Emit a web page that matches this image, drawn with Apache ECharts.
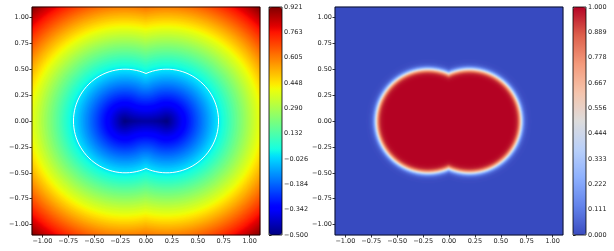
<!DOCTYPE html>
<html>
<head>
<meta charset="utf-8">
<script src="https://cdn.jsdelivr.net/npm/echarts@6/dist/echarts.min.js"></script>
<style>
  html, body { margin: 0; padding: 0; background: #fff; }
  #main { width: 614px; height: 251px; }
</style>
</head>
<body>
<div id="main"></div>
<script>
// shape: union of two discs
const circleCenters = [[-0.2, 0], [0.2, 0]];
const circleRadius = 0.5;
const domain = [-1.1, 1.1];
const gridN = 228;          // cells per side
const smoothEps = 0.015;    // width of the smoothed indicator edge

const axisTicks = [-1.0, -0.75, -0.5, -0.25, 0.0, 0.25, 0.5, 0.75, 1.0];
const sdfBarLabels = ['-0.500', '-0.342', '-0.184', '-0.026', '0.132', '0.290', '0.448', '0.605', '0.763', '0.921'];
const indBarLabels = ['0.000', '0.111', '0.222', '0.333', '0.444', '0.556', '0.667', '0.778', '0.889', '1.000'];
const sdfRange = [-0.5, 0.921];
const indRange = [0, 1];

// where the two circles cross (the notches)
const hitY = Math.sqrt(circleRadius * circleRadius - circleCenters[1][0] * circleCenters[1][0]);
const notches = [[0, hitY], [0, -hitY]];
// each circle keeps the part of its rim that lies outside the other disc
function onOuterArc(c, other, x, y) {
  const d = Math.hypot(x - c[0], y - c[1]);
  if (d === 0) return false;
  const bx = c[0] + circleRadius * (x - c[0]) / d;
  const by = c[1] + circleRadius * (y - c[1]) / d;
  return Math.hypot(bx - other[0], by - other[1]) >= circleRadius;
}

// exact signed distance to the union boundary
function sdf(x, y) {
  let dist = Infinity;
  let inside = false;
  circleCenters.forEach((c, k) => {
    const other = circleCenters[1 - k];
    const d = Math.hypot(x - c[0], y - c[1]);
    if (d <= circleRadius) inside = true;
    if (onOuterArc(c, other, x, y)) dist = Math.min(dist, Math.abs(d - circleRadius));
  });
  notches.forEach(n => { dist = Math.min(dist, Math.hypot(x - n[0], y - n[1])); });
  return inside ? -dist : dist;
}

const cellIdx = [];
for (let i = 0; i < gridN; i++) cellIdx.push(i);
const sdfData = [];
const indData = [];
const step = (domain[1] - domain[0]) / gridN;
for (let i = 0; i < gridN; i++) {
  for (let j = 0; j < gridN; j++) {
    const x = domain[0] + (i + 0.5) * step;
    const y = domain[0] + (j + 0.5) * step;
    const d = sdf(x, y);
    sdfData.push([i, j, d]);
    indData.push([i, j, 1 / (1 + Math.exp(d / smoothEps))]);
  }
}

// zero contour: outer arcs of both circles
const contour = [];
const aR = Math.atan2(hitY, -circleCenters[1][0]);
const aL = Math.atan2(hitY, -circleCenters[0][0]);
for (let k = 0; k <= 120; k++) {
  const a = -aR + 2 * aR * k / 120;
  contour.push([circleCenters[1][0] + circleRadius * Math.cos(a), circleCenters[1][1] + circleRadius * Math.sin(a)]);
}
for (let k = 0; k <= 120; k++) {
  const a = aL + (2 * Math.PI - 2 * aL) * k / 120;
  contour.push([circleCenters[0][0] + circleRadius * Math.cos(a), circleCenters[0][1] + circleRadius * Math.sin(a)]);
}

// matplotlib jet
function jet(t) {
  const seg = (pts) => {
    for (let k = 1; k < pts.length; k++) {
      if (t <= pts[k][0]) {
        const p = pts[k - 1], q = pts[k];
        return p[1] + (q[1] - p[1]) * (t - p[0]) / (q[0] - p[0]);
      }
    }
    return pts[pts.length - 1][1];
  };
  const r = seg([[0, 0], [0.35, 0], [0.66, 1], [0.89, 1], [1, 0.5]]);
  const g = seg([[0, 0], [0.125, 0], [0.375, 1], [0.64, 1], [0.91, 0], [1, 0]]);
  const b = seg([[0, 0.5], [0.11, 1], [0.34, 1], [0.65, 0], [1, 0]]);
  return 'rgb(' + Math.round(r * 255) + ',' + Math.round(g * 255) + ',' + Math.round(b * 255) + ')';
}
const jetColors = [];
for (let k = 0; k <= 64; k++) jetColors.push(jet(k / 64));
const coolwarm = ['#3b4cc0', '#6282ea', '#8db0fe', '#b9d0f9', '#dddcdc', '#f5c4ac', '#f49a7b', '#dd604c', '#b40426'];

const font = { fontFamily: 'DejaVu Sans', fontSize: 6.5, color: '#222' };
const plotW = 228, plotH = 228, plotTop = 7;
const grids = [
  { left: 32, top: plotTop, width: plotW, height: plotH },
  { left: 335, top: plotTop, width: plotW, height: plotH },
  { left: 269, top: plotTop, width: 13, height: plotH },
  { left: 573, top: plotTop, width: 13, height: plotH }
];
const frame = grids.map(g => Object.assign({ show: true, borderColor: '#000', borderWidth: 0.8, backgroundColor: 'transparent', z: 10 }, g));

const xAxes = [], yAxes = [];
[0, 1].forEach(g => {
  xAxes.push({ type: 'category', gridIndex: g, data: cellIdx, show: false });
  yAxes.push({ type: 'category', gridIndex: g, data: cellIdx, show: false });
});
[0, 1].forEach(g => {
  const common = {
    type: 'value', gridIndex: g, min: domain[0], max: domain[1],
    axisLine: { show: false },
    splitLine: { show: false },
    axisTick: { show: true, length: 2.5, lineStyle: { color: '#000', width: 0.8 }, customValues: axisTicks },
    axisLabel: Object.assign({ margin: 3, customValues: axisTicks, formatter: v => v.toFixed(2).replace('-', '\u2212') }, font)
  };
  xAxes.push(Object.assign({ position: 'bottom' }, common));
  yAxes.push(Object.assign({ position: 'left' }, common));
});
[[2, sdfBarLabels], [3, indBarLabels]].forEach(([g, labels]) => {
  xAxes.push({ type: 'value', gridIndex: g, show: false });
  yAxes.push({
    type: 'category', gridIndex: g, data: labels, boundaryGap: false, position: 'right',
    axisLine: { show: false },
    axisTick: { show: true, length: 2.5, lineStyle: { color: '#000', width: 0.8 } },
    axisLabel: Object.assign({ margin: 2, interval: 0, formatter: v => v.replace('-', '\u2212') }, font)
  });
});

const chart = echarts.init(document.getElementById('main'), null, { renderer: 'canvas' });
chart.setOption({
  animation: false,
  backgroundColor: '#fff',
  grid: frame,
  xAxis: xAxes,
  yAxis: yAxes,
  visualMap: [
    {
      type: 'continuous', seriesIndex: 0, min: sdfRange[0], max: sdfRange[1],
      calculable: false, orient: 'vertical', left: 269, top: plotTop, padding: 0,
      itemWidth: 13, itemHeight: plotH, text: null, showLabel: false,
      inRange: { color: jetColors }
    },
    {
      type: 'continuous', seriesIndex: 2, min: indRange[0], max: indRange[1],
      calculable: false, orient: 'vertical', left: 573, top: plotTop, padding: 0,
      itemWidth: 13, itemHeight: plotH, text: null, showLabel: false,
      inRange: { color: coolwarm }
    }
  ],
  series: [
    {
      type: 'heatmap', xAxisIndex: 0, yAxisIndex: 0, data: sdfData,
      progressive: 0, itemStyle: { borderWidth: 0 }, emphasis: { disabled: true }
    },
    {
      type: 'line', xAxisIndex: 2, yAxisIndex: 2, data: contour, symbol: 'none',
      lineStyle: { color: '#fff', width: 1 }, z: 5, silent: true
    },
    {
      type: 'heatmap', xAxisIndex: 1, yAxisIndex: 1, data: indData,
      progressive: 0, itemStyle: { borderWidth: 0 }, emphasis: { disabled: true }
    }
  ]
});
</script>
</body>
</html>
